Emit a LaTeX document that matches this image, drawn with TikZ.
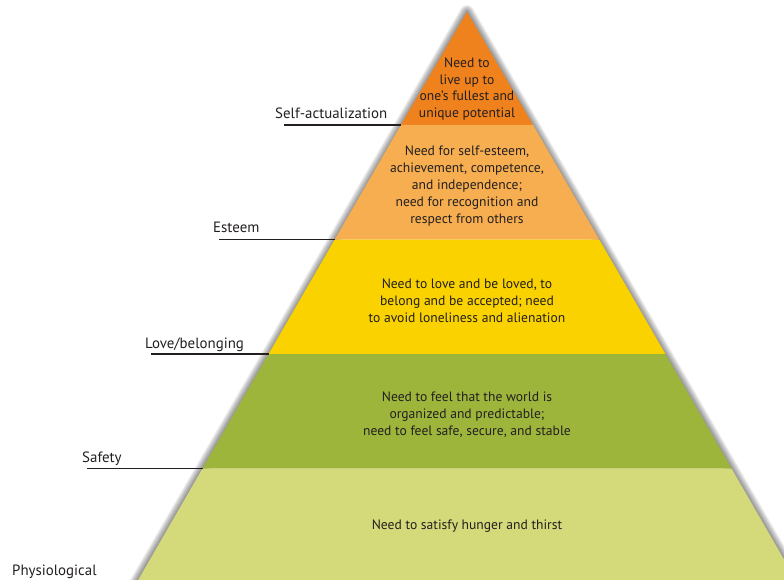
\documentclass[tikz,border=0pt]{standalone}
\usepackage{fontspec}
\setmainfont{PT Sans}
\usepackage{tikz}
\usetikzlibrary{calc}

\definecolor{selfcol}{HTML}{F0821E}
\definecolor{estcol}{HTML}{F7AE50}
\definecolor{lovecol}{HTML}{F9D200}
\definecolor{safecol}{HTML}{9DB53B}
\definecolor{physcol}{HTML}{D4D97A}
\definecolor{inkcol}{HTML}{231F20}

\begin{document}
\begin{tikzpicture}[
  x=1pt, y=-1pt,
  txt/.style={align=center, text=inkcol, font=\fontsize{13.6}{16.9}\selectfont},
  lab/.style={anchor=base west, inner sep=0pt, text=inkcol,
              font=\fontsize{14.9}{17}\selectfont},
  rule/.style={line width=1.7pt, inkcol}
]
\useasboundingbox (0,0) rectangle (784,580);

% corners of the bands
\coordinate (top) at (467,12);
\coordinate (l1) at (400.9,125);   \coordinate (r1) at (533.1,125);
\coordinate (l2) at (334.8,239.5); \coordinate (r2) at (599.2,239.5);
\coordinate (l3) at (268.6,354);   \coordinate (r3) at (665.4,354);
\coordinate (l4) at (202.5,468.5); \coordinate (r4) at (731.5,468.5);
\coordinate (l5) at (136.4,583);   \coordinate (r5) at (797.6,583);

% soft shadow
\foreach \w in {2,4,...,14}
  \draw[black, opacity=0.07, line width=\w pt, line join=round, yshift=-3pt]
    (top) -- (l5) -- (r5) -- cycle;

% pyramid
\fill[selfcol] (top) -- (l1) -- (r1) -- cycle;
\fill[estcol]  (l1) -- (l2) -- (r2) -- (r1) -- cycle;
\fill[lovecol] (l2) -- (l3) -- (r3) -- (r2) -- cycle;
\fill[safecol] (l3) -- (l4) -- (r4) -- (r3) -- cycle;
\fill[physcol] (l4) -- (l5) -- (r5) -- (r4) -- cycle;

% needs
\node[txt] (selftxt) at (467,89)  {Need to\\ live up to\\ one's fullest and\\ unique potential};
\node[txt] (esttxt)  at (467,186) {Need for self-esteem,\\ achievement, competence,\\ and independence;\\ need for recognition and\\ respect from others};
\node[txt] (lovetxt) at (467,301) {Need to love and be loved, to\\ belong and be accepted; need\\ to avoid loneliness and alienation};
\node[txt] (safetxt) at (467,415) {Need to feel that the world is\\ organized and predictable;\\ need to feel safe, secure, and stable};
\node[txt] (phystxt) at (467,526) {Need to satisfy hunger and thirst};

% levels
\node[lab] (selflab) at (275,119) {Self-actualization};
\node[lab] (estlab)  at (213,232) {Esteem};
\node[lab] (lovelab) at (145,348) {Love/belonging};
\node[lab] (safelab) at (82,462)  {Safety};
\node[lab] (physlab) at (12,575)  {Physiological};
\draw[rule] ([xshift=9pt]selflab.west |- l1) -- (l1);
\draw[rule] ([xshift=6pt]estlab.west |- l2) -- (l2);
\draw[rule] ([xshift=6pt]lovelab.west |- l3) -- (l3);
\draw[rule] ([xshift=5pt]safelab.west |- l4) -- (l4);
\end{tikzpicture}
\end{document}
